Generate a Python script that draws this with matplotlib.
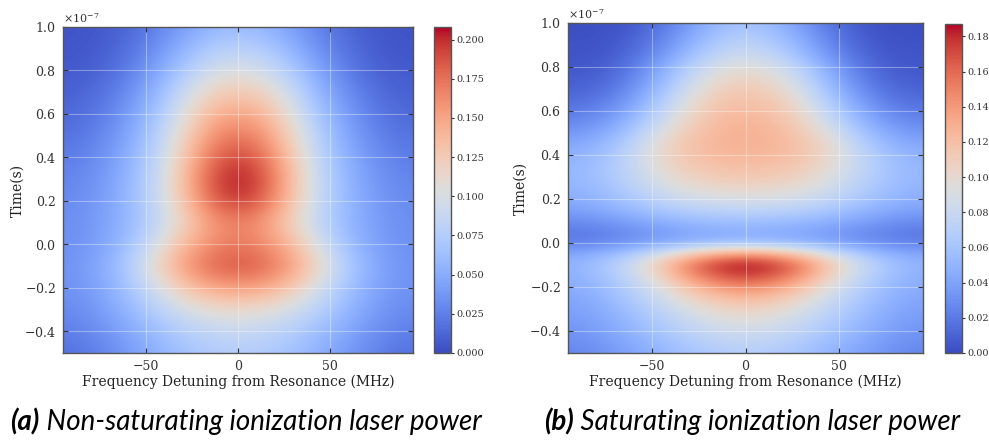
import numpy as np
import matplotlib
matplotlib.use("Agg")
import matplotlib.pyplot as plt
from matplotlib.ticker import ScalarFormatter, FixedLocator, FormatStrFormatter

# Detuning grid (MHz) shared by both maps
freq_mhz = [-90, -75, -60, -45, -30, -15, 0, 15, 30, 45, 60, 75, 90]

# Time grid in units of 1e-7 s, listed from top row to bottom row
time_a = [1.0, 0.9, 0.8, 0.7, 0.6, 0.5, 0.4, 0.3, 0.2, 0.1, 0.0, -0.1, -0.2, -0.3, -0.4, -0.5]
time_b = [1.0, 0.95, 0.9, 0.85, 0.8, 0.75, 0.7, 0.65, 0.6, 0.55, 0.5, 0.45, 0.4, 0.35,
          0.3, 0.25, 0.2, 0.15, 0.1, 0.05, 0.0, -0.05, -0.1, -0.15, -0.2, -0.25,
          -0.3, -0.35, -0.4, -0.45, -0.5]

# Ion signal, non-saturating ionization laser power
signal_a = [
    [0.004, 0.006, 0.012, 0.025, 0.040, 0.055, 0.060, 0.055, 0.040, 0.025, 0.012, 0.006, 0.004],
    [0.005, 0.008, 0.017, 0.033, 0.054, 0.073, 0.079, 0.073, 0.054, 0.033, 0.017, 0.008, 0.005],
    [0.007, 0.011, 0.023, 0.044, 0.070, 0.094, 0.102, 0.094, 0.070, 0.044, 0.023, 0.011, 0.007],
    [0.010, 0.017, 0.031, 0.055, 0.088, 0.118, 0.128, 0.118, 0.088, 0.055, 0.031, 0.017, 0.010],
    [0.014, 0.022, 0.039, 0.065, 0.103, 0.139, 0.152, 0.139, 0.103, 0.065, 0.039, 0.022, 0.014],
    [0.019, 0.028, 0.045, 0.074, 0.116, 0.158, 0.174, 0.158, 0.116, 0.074, 0.045, 0.028, 0.019],
    [0.024, 0.033, 0.051, 0.080, 0.127, 0.174, 0.193, 0.174, 0.127, 0.080, 0.051, 0.033, 0.024],
    [0.028, 0.037, 0.055, 0.085, 0.134, 0.186, 0.208, 0.186, 0.134, 0.085, 0.055, 0.037, 0.028],
    [0.031, 0.040, 0.057, 0.085, 0.130, 0.178, 0.198, 0.178, 0.130, 0.085, 0.057, 0.040, 0.031],
    [0.033, 0.041, 0.057, 0.080, 0.117, 0.153, 0.168, 0.153, 0.117, 0.080, 0.057, 0.041, 0.033],
    [0.034, 0.043, 0.062, 0.096, 0.136, 0.162, 0.172, 0.162, 0.136, 0.096, 0.062, 0.043, 0.034],
    [0.036, 0.048, 0.073, 0.114, 0.155, 0.180, 0.188, 0.180, 0.155, 0.114, 0.073, 0.048, 0.036],
    [0.035, 0.045, 0.065, 0.095, 0.126, 0.148, 0.155, 0.148, 0.126, 0.095, 0.065, 0.045, 0.035],
    [0.031, 0.040, 0.057, 0.077, 0.096, 0.108, 0.113, 0.108, 0.096, 0.077, 0.057, 0.040, 0.031],
    [0.025, 0.033, 0.046, 0.061, 0.075, 0.084, 0.088, 0.084, 0.075, 0.061, 0.046, 0.033, 0.025],
    [0.018, 0.026, 0.038, 0.052, 0.064, 0.072, 0.075, 0.072, 0.064, 0.052, 0.038, 0.026, 0.018],
]

# Ion signal, saturating ionization laser power
signal_b = [
    [0.001, 0.002, 0.006, 0.018, 0.035, 0.052, 0.060, 0.052, 0.035, 0.018, 0.006, 0.002, 0.001],
    [0.002, 0.003, 0.008, 0.022, 0.041, 0.058, 0.066, 0.058, 0.041, 0.022, 0.008, 0.003, 0.002],
    [0.003, 0.004, 0.011, 0.027, 0.048, 0.066, 0.074, 0.066, 0.048, 0.027, 0.011, 0.004, 0.003],
    [0.004, 0.006, 0.015, 0.033, 0.056, 0.075, 0.084, 0.075, 0.056, 0.033, 0.015, 0.006, 0.004],
    [0.005, 0.008, 0.020, 0.042, 0.068, 0.088, 0.095, 0.088, 0.068, 0.042, 0.020, 0.008, 0.005],
    [0.007, 0.011, 0.025, 0.049, 0.077, 0.098, 0.105, 0.098, 0.077, 0.049, 0.025, 0.011, 0.007],
    [0.010, 0.015, 0.031, 0.056, 0.086, 0.106, 0.113, 0.106, 0.086, 0.056, 0.031, 0.015, 0.010],
    [0.014, 0.021, 0.038, 0.064, 0.094, 0.113, 0.119, 0.113, 0.094, 0.064, 0.038, 0.021, 0.014],
    [0.020, 0.028, 0.046, 0.073, 0.101, 0.118, 0.123, 0.118, 0.101, 0.073, 0.046, 0.028, 0.020],
    [0.026, 0.035, 0.054, 0.082, 0.107, 0.122, 0.126, 0.122, 0.107, 0.082, 0.054, 0.035, 0.026],
    [0.034, 0.044, 0.064, 0.092, 0.113, 0.125, 0.128, 0.125, 0.113, 0.092, 0.064, 0.044, 0.034],
    [0.042, 0.052, 0.073, 0.100, 0.117, 0.126, 0.128, 0.126, 0.117, 0.100, 0.073, 0.052, 0.042],
    [0.048, 0.058, 0.078, 0.102, 0.117, 0.124, 0.126, 0.124, 0.117, 0.102, 0.078, 0.058, 0.048],
    [0.051, 0.061, 0.079, 0.099, 0.113, 0.119, 0.121, 0.119, 0.113, 0.099, 0.079, 0.061, 0.051],
    [0.052, 0.061, 0.076, 0.093, 0.106, 0.112, 0.114, 0.112, 0.106, 0.093, 0.076, 0.061, 0.052],
    [0.050, 0.058, 0.071, 0.086, 0.097, 0.102, 0.104, 0.102, 0.097, 0.086, 0.071, 0.058, 0.050],
    [0.046, 0.053, 0.064, 0.076, 0.085, 0.089, 0.090, 0.089, 0.085, 0.076, 0.064, 0.053, 0.046],
    [0.039, 0.045, 0.054, 0.063, 0.070, 0.074, 0.075, 0.074, 0.070, 0.063, 0.054, 0.045, 0.039],
    [0.029, 0.034, 0.041, 0.048, 0.054, 0.057, 0.058, 0.057, 0.054, 0.048, 0.041, 0.034, 0.029],
    [0.020, 0.024, 0.030, 0.036, 0.042, 0.045, 0.046, 0.045, 0.042, 0.036, 0.030, 0.024, 0.020],
    [0.023, 0.027, 0.034, 0.042, 0.049, 0.053, 0.055, 0.053, 0.049, 0.042, 0.034, 0.027, 0.023],
    [0.042, 0.050, 0.066, 0.088, 0.112, 0.132, 0.140, 0.132, 0.112, 0.088, 0.066, 0.050, 0.042],
    [0.050, 0.062, 0.085, 0.115, 0.152, 0.178, 0.187, 0.178, 0.152, 0.115, 0.085, 0.062, 0.050],
    [0.048, 0.060, 0.080, 0.108, 0.142, 0.165, 0.175, 0.165, 0.142, 0.108, 0.080, 0.060, 0.048],
    [0.045, 0.055, 0.072, 0.094, 0.120, 0.140, 0.148, 0.140, 0.120, 0.094, 0.072, 0.055, 0.045],
    [0.042, 0.051, 0.066, 0.084, 0.104, 0.119, 0.125, 0.119, 0.104, 0.084, 0.066, 0.051, 0.042],
    [0.039, 0.047, 0.060, 0.075, 0.091, 0.103, 0.108, 0.103, 0.091, 0.075, 0.060, 0.047, 0.039],
    [0.036, 0.043, 0.055, 0.068, 0.081, 0.091, 0.095, 0.091, 0.081, 0.068, 0.055, 0.043, 0.036],
    [0.033, 0.040, 0.050, 0.062, 0.073, 0.082, 0.085, 0.082, 0.073, 0.062, 0.050, 0.040, 0.033],
    [0.029, 0.036, 0.045, 0.056, 0.066, 0.073, 0.076, 0.073, 0.066, 0.056, 0.045, 0.036, 0.029],
    [0.026, 0.032, 0.041, 0.050, 0.060, 0.066, 0.068, 0.066, 0.060, 0.050, 0.041, 0.032, 0.026],
]

cbar_ticks_a = [0.000, 0.025, 0.050, 0.075, 0.100, 0.125, 0.150, 0.175, 0.200]
cbar_ticks_b = [0.00, 0.02, 0.04, 0.06, 0.08, 0.10, 0.12, 0.14, 0.16, 0.18]
freq_ticks = [-50, 0, 50]
time_ticks = [-0.4, -0.2, 0.0, 0.2, 0.4, 0.6, 0.8, 1.0]

caption_a = ("(a)", "Non-saturating ionization laser power")
caption_b = ("(b)", "Saturating ionization laser power")

SERIF = "DejaVu Serif"
plt.rcParams["font.family"] = SERIF
plt.rcParams["mathtext.fontset"] = "dejavuserif"

fig = plt.figure(figsize=(9.89, 4.41), dpi=100)
W, H = 989, 441


def px_rect(x0, y0, x1, y1):
    return [x0 / W, 1 - y1 / H, (x1 - x0) / W, (y1 - y0) / H]


def draw_map(ax, cax, values, times, cticks, cfmt, ylabel_x):
    z = np.array(values)
    f = np.array(freq_mhz, dtype=float)
    t = np.array(times, dtype=float) * 1e-7
    df = f[1] - f[0]
    dt = abs(t[0] - t[1])
    extent = [f[0] - df / 2, f[-1] + df / 2, t[-1] - dt / 2, t[0] + dt / 2]
    im = ax.imshow(z, cmap="coolwarm", vmin=0.0, vmax=z.max(), extent=extent,
                   origin="upper", aspect="auto", interpolation="bicubic")
    ax.set_xlim(-95, 95)
    ax.set_ylim(-0.5e-7, 1.0e-7)
    ax.xaxis.set_major_locator(FixedLocator(freq_ticks))
    ax.yaxis.set_major_locator(FixedLocator([v * 1e-7 for v in time_ticks]))
    fmt = ScalarFormatter(useMathText=True)
    fmt.set_powerlimits((0, 0))
    ax.yaxis.set_major_formatter(fmt)
    ax.yaxis.get_offset_text().set_fontsize(8)
    ax.yaxis.get_offset_text().set_color("#333333")
    ax.grid(True, color="white", alpha=0.35, linewidth=0.8)
    ax.tick_params(direction="in", top=True, right=True, length=3.5, width=0.8,
                   color="#333333", labelsize=9, labelcolor="#333333", pad=5)
    for s in ax.spines.values():
        s.set_color("#555555")
        s.set_linewidth(1.0)
    ax.set_xlabel("Frequency Detuning from Resonance (MHz)", fontsize=10,
                  color="#222222", labelpad=1.5)
    ax.set_ylabel("Time(s)", fontsize=10, color="#222222")
    ax.yaxis.set_label_coords(ylabel_x, 0.5)

    cb = fig.colorbar(im, cax=cax)
    cb.set_ticks(cticks)
    cb.ax.yaxis.set_major_formatter(FormatStrFormatter(cfmt))
    cb.ax.tick_params(labelsize=7, length=2.5, width=0.8, color="#333333",
                      labelcolor="#333333", pad=1.5)
    cb.outline.set_edgecolor("#555555")
    cb.outline.set_linewidth(1.0)
    return im


ax_a = fig.add_axes(px_rect(63, 27, 413, 353))
cax_a = fig.add_axes(px_rect(434, 27, 451, 353))
ax_b = fig.add_axes(px_rect(568, 23, 923, 353))
cax_b = fig.add_axes(px_rect(945, 24, 962, 353))

draw_map(ax_a, cax_a, signal_a, time_a, cbar_ticks_a, "%.3f", -0.11)
draw_map(ax_b, cax_b, signal_b, time_b, cbar_ticks_b, "%.2f", -0.115)

# Sub-figure captions: bold italic tag followed by italic description
renderer = fig.canvas.get_renderer()


def caption(cx, cy, tag, text):
    size = 20
    t1 = fig.text(0, 0, tag, fontsize=size, fontfamily="Lato", fontstyle="italic",
                  fontweight="bold", color="black", va="center", ha="left")
    t2 = fig.text(0, 0, " " + text, fontsize=size, fontfamily="Lato",
                  fontstyle="italic", color="black", va="center", ha="left")
    w1 = t1.get_window_extent(renderer).width
    w2 = t2.get_window_extent(renderer).width
    x0 = cx - (w1 + w2) / 2
    t1.set_position((x0 / W, 1 - cy / H))
    t2.set_position(((x0 + w1) / W, 1 - cy / H))


caption(246, 422, *caption_a)
caption(752, 422, *caption_b)

fig.savefig("out.png", dpi=100)
